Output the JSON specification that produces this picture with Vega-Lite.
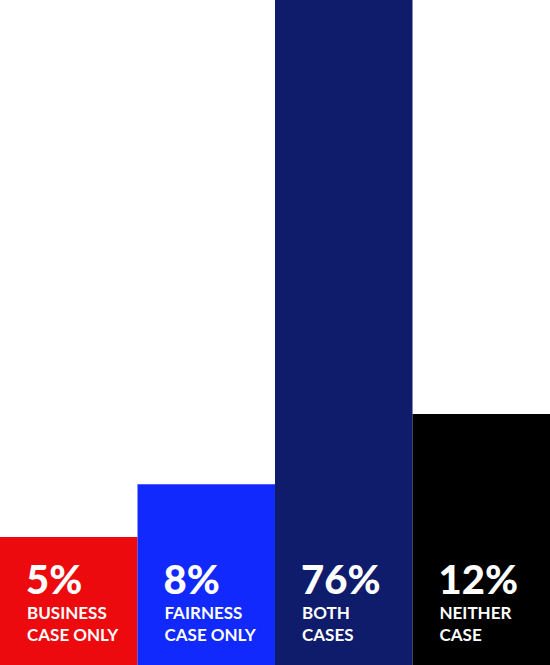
{
  "$schema": "https://vega.github.io/schema/vega-lite/v6.json",
  "width": 550,
  "height": 665,
  "autosize": {"type": "fit", "contains": "padding"},
  "padding": 0,
  "background": "white",
  "config": {"view": {"stroke": null}},
  "data": {
    "values": [
      {"group": "Business case only", "pct": 5, "big": "5%", "sub": "BUSINESS\nCASE ONLY", "color": "#ec0a0e"},
      {"group": "Fairness case only", "pct": 8, "big": "8%", "sub": "FAIRNESS\nCASE ONLY", "color": "#1129fd"},
      {"group": "Both cases", "pct": 76, "big": "76%", "sub": "BOTH\nCASES", "color": "#0f1c6b"},
      {"group": "Neither case", "pct": 12, "big": "12%", "sub": "NEITHER\nCASE", "color": "#000000"}
    ]
  },
  "encoding": {
    "x": {
      "field": "group",
      "type": "nominal",
      "sort": null,
      "axis": null,
      "scale": {"paddingInner": 0, "paddingOuter": 0}
    }
  },
  "layer": [
    {
      "mark": {"type": "bar", "clip": true},
      "encoding": {
        "y": {
          "field": "pct",
          "type": "quantitative",
          "axis": null,
          "scale": {"domain": [-2.28, 35.56], "zero": false, "nice": false}
        },
        "y2": {"datum": -2.28},
        "color": {"field": "color", "type": "nominal", "scale": null, "legend": null}
      }
    },
    {
      "mark": {
        "type": "text",
        "align": "left",
        "baseline": "alphabetic",
        "dx": 26,
        "dy": -71,
        "font": "Lato",
        "fontWeight": 900,
        "fontSize": 40,
        "color": "white"
      },
      "encoding": {
        "x": {"field": "group", "type": "nominal", "sort": null, "bandPosition": 0},
        "y": {"datum": -2.28},
        "text": {"field": "big"}
      }
    },
    {
      "mark": {
        "type": "text",
        "align": "left",
        "baseline": "alphabetic",
        "dx": 27,
        "dy": -46,
        "lineBreak": "\n",
        "lineHeight": 22,
        "font": "Lato",
        "fontWeight": "bold",
        "fontSize": 17,
        "color": "white"
      },
      "encoding": {
        "x": {"field": "group", "type": "nominal", "sort": null, "bandPosition": 0},
        "y": {"datum": -2.28},
        "text": {"field": "sub"}
      }
    }
  ]
}
